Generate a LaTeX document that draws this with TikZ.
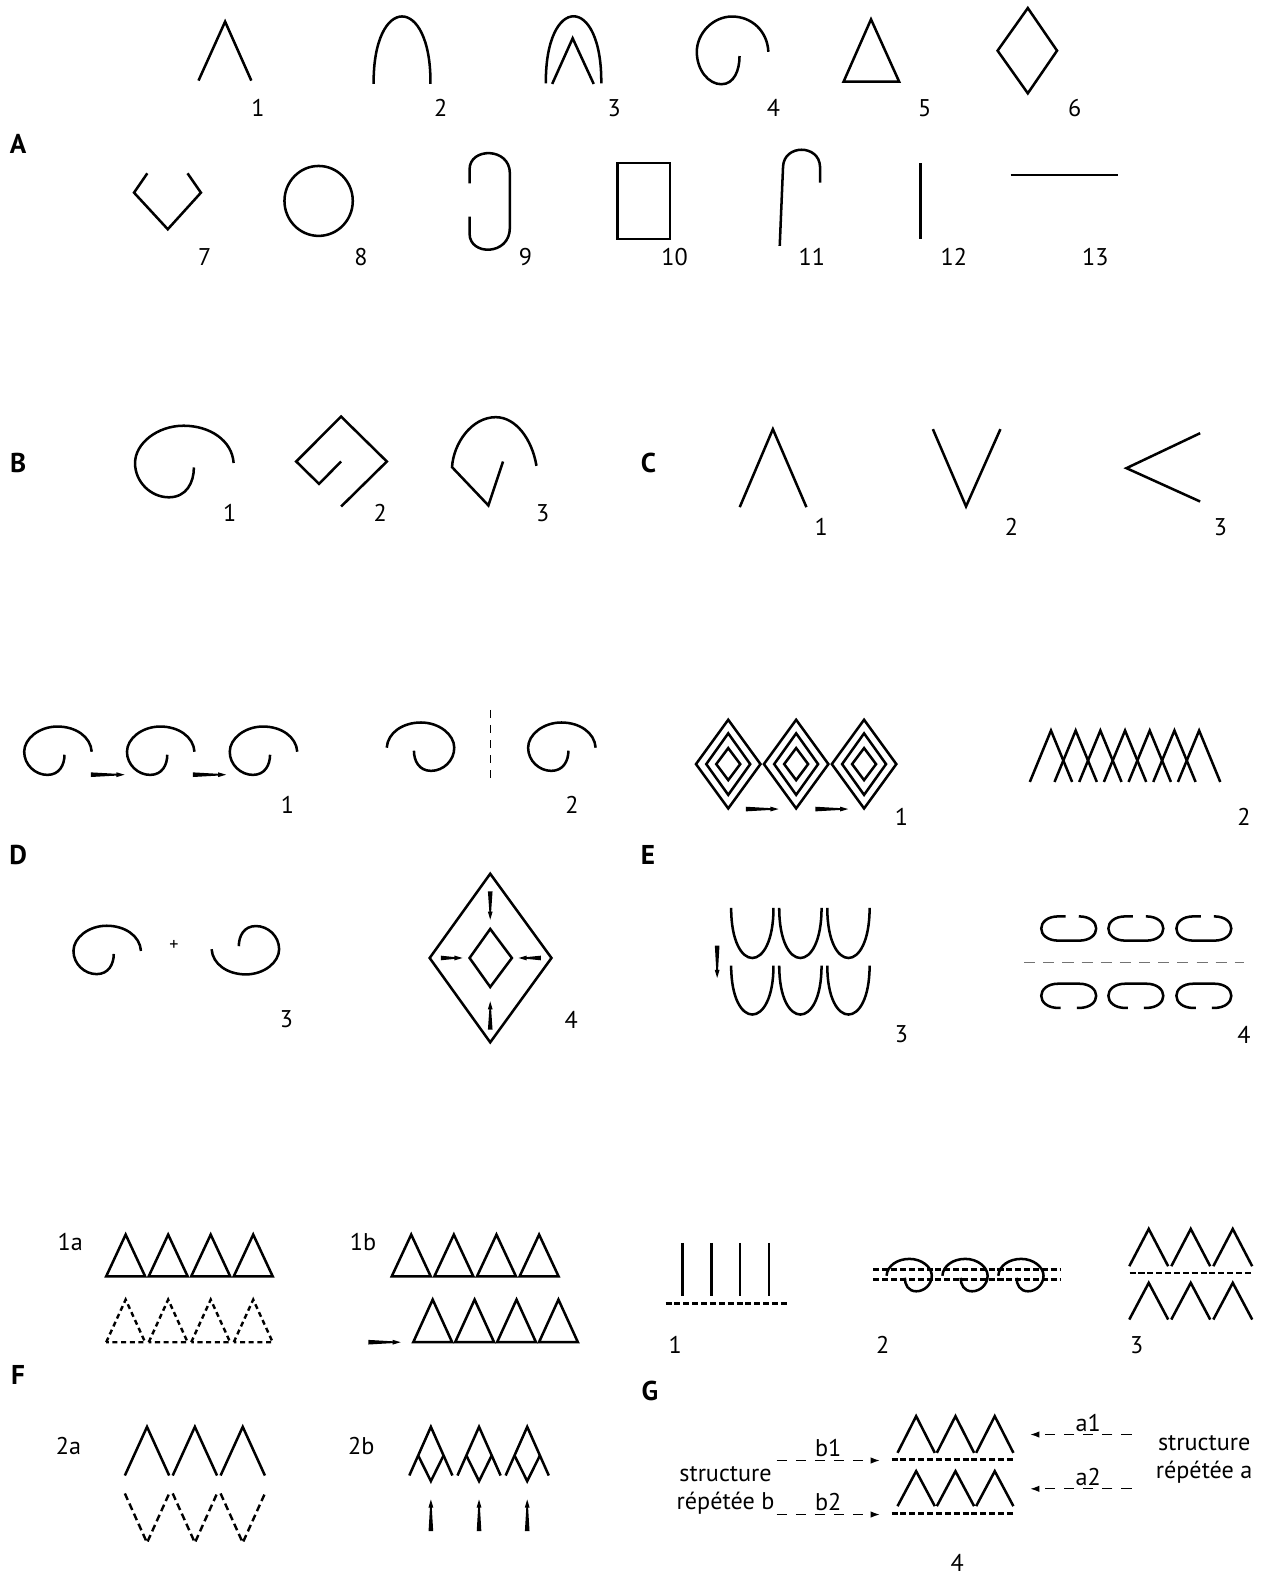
\documentclass[tikz,border=0pt]{standalone}
\usepackage{fontspec}
\setmainfont{PT Sans}
\usetikzlibrary{arrows.meta}
\newcommand\lblfont{\fontsize{12}{14}\selectfont}
\newcommand\bigfont{\fontsize{13.5}{15}\selectfont\bfseries}
\tikzset{
  shp/.style={line width=1.25pt},
  lbl/.style={font=\lblfont, inner sep=0pt},
  big/.style={font=\bigfont, inner sep=0pt},
  fonedash/.style={line width=1.2pt, dash pattern=on 2.5pt off 1.8pt},
  ftwodash/.style={line width=1.2pt, dash pattern=on 3.5pt off 2pt},
  gdash/.style={line width=1.2pt, dash pattern=on 3pt off 1.4pt},
  vdash/.style={line width=0.6pt, dash pattern=on 4pt off 3.5pt},
  graydash/.style={line width=0.7pt, draw=black!55, dash pattern=on 5.5pt off 4pt},
  thinarrow/.style={line width=0.55pt, dash pattern=on 5pt off 4.5pt, -{Latex[length=4.5pt,width=3.2pt]}},
  pics/curl/.style={code={\draw[shp] (34,1) .. controls (33,-14) and (18,-24) .. (0,-24) .. controls (-18,-24) and (-33,-12) .. (-33,1) .. controls (-33,14) and (-22,24) .. (-10,24) .. controls (2,24) and (7,14) .. (7,4);}},
  pics/warrow/.style={code={\fill (0,-2.3) -- ({#1-8},-0.9) -- ({#1-8},-2.4) -- (#1,0) -- ({#1-8},2.4) -- ({#1-8},0.9) -- (0,2.3) -- cycle;}}
}
\begin{document}
\begin{tikzpicture}[x=0.5pt,y=-0.5pt]
\path[use as bounding box, fill=white] (0,0) rectangle (1252,1568);

% ===== A =====
\node[big] (lA) at (18,143) {A};
\draw[shp] (197,80) -- (223.4,21.5) -- (249.4,80);
\draw[shp] (370.8,83.3) .. controls (370,-6) and (428,-6) .. (427.2,83.3);
\draw[shp] (541.7,82.7) .. controls (541,-6) and (597.5,-6) .. (596.7,82.7);
\draw[shp] (548,83.3) -- (568.3,38) -- (589.2,83.3);
\pic[xscale=1.06,yscale=1.4] at (726.5,50) {curl};
\draw[shp] (837.2,81) -- (864.4,19.2) -- (892.3,81) -- cycle;
\draw[shp] (1020,8) -- (1049,50.3) -- (1020,92.6) -- (990,50.3) -- cycle;
\draw[shp] (146.2,172) -- (133,191.2) -- (166.5,227.5) -- (199.4,191.2) -- (186.1,172);
\draw[shp] (316.2,199.4) ellipse [x radius=33.9, y radius=34.7];
\draw[shp] (466,182) -- (466,168) .. controls (466,146) and (506,146) .. (506,172) -- (506,226) .. controls (506,254) and (466,254) .. (466,232) -- (466,215);
\draw[shp] (612.6,162) rectangle (665.1,237.4);
\draw[shp] (773.8,244) -- (777.1,165.4) .. controls (778,143) and (813,143) .. (813.8,165.4) -- (813.8,181.2);
\draw[shp] (913.7,162) -- (913.7,237.4);
\draw[shp] (1003,173.6) -- (1109,173.6);
\node[lbl] (a1) at (256,107) {1};
\node[lbl] (a2) at (437.3,107) {2};
\node[lbl] (a3) at (609.6,107) {3};
\node[lbl] (a4) at (767.6,107) {4};
\node[lbl] (a5) at (917.6,107) {5};
\node[lbl] (a6) at (1066.5,107) {6};
\node[lbl] (a7) at (203.2,255) {7};
\node[lbl] (a8) at (358.1,255) {8};
\node[lbl] (a9) at (521.4,255) {9};
\node[lbl] (a10) at (669.5,255) {10};
\node[lbl] (a11) at (805.6,255) {11};
\node[lbl] (a12) at (946.6,255) {12};
\node[lbl] (a13) at (1087,255) {13};

% ===== B =====
\node[big] (lB) at (18,459) {B};
\pic[xscale=1.46,yscale=1.48] at (182.2,458) {curl};
\draw[shp] (338.5,502.7) -- (383.9,458) -- (338.5,413.4) -- (294,458) -- (316.6,480.2) -- (338.5,458);
\draw[shp] (532.4,462.3) .. controls (528,436) and (512,414) .. (492,414) .. controls (468,414) and (450,440) .. (448.6,463.6) -- (484.7,501.6) -- (499.2,458);
\node[lbl] (b1) at (227.9,509) {1};
\node[lbl] (b2) at (377.4,509) {2};
\node[lbl] (b3) at (538.5,509) {3};

% ===== C =====
\node[big] (lC) at (643.5,459) {C};
\draw[shp] (734.1,503.3) -- (767,425.9) -- (800.3,503.3);
\draw[shp] (925.8,425.9) -- (958.7,502.6) -- (992.8,425.9);
\draw[shp] (1191,429.9) -- (1117.9,464.6) -- (1191,497.7);
\node[lbl] (c1) at (814.9,523) {1};
\node[lbl] (c2) at (1003.8,523) {2};
\node[lbl] (c3) at (1211.3,523) {3};

% ===== D =====
\node[big] (lD) at (18,848) {D};
\pic at (57,745) {curl};
\pic at (159,745) {curl};
\pic at (261,745) {curl};
\pic at (90.2,768.8) {warrow=33.4};
\pic at (191.4,768.8) {warrow=33};
\node[lbl] (d1) at (285.2,798.6) {1};
\pic[xscale=-1] at (417.8,741) {curl};
\pic at (557.1,741) {curl};
\draw[vdash] (486.5,704.4) -- (486.5,775.5);
\node[lbl] (d2) at (567.7,798.6) {2};
\pic at (105.9,942.7) {curl};
\node[font=\fontsize{9}{10}\selectfont, inner sep=0pt] (plus) at (172.6,938.5) {+};
\pic[rotate=180] at (244,943) {curl};
\node[lbl] (d3) at (284.4,1011.9) {3};
\draw[shp] (486.5,867.1) -- (547.3,950.7) -- (486.5,1034.4) -- (426.4,950.7) -- cycle;
\draw[shp] (486.5,921.9) -- (508,950.7) -- (486.5,979.5) -- (466,950.7) -- cycle;
\pic[rotate=-90] at (486.5,884.6) {warrow=28};
\pic[rotate=90] at (486.5,1021.8) {warrow=28};
\pic at (437.4,950.7) {warrow=21.6};
\pic[rotate=180] at (536.7,950.7) {warrow=22};
\node[lbl] (d4) at (566.9,1011.9) {4};

% ===== E =====
\node[big] (lE) at (643,848) {E};
\foreach \x in {722.7,790.1,857.5}{
  \foreach \w/\h in {32/44,21.8/30.5,11.9/15.9}{
    \draw[shp] (\x,758.3-\h) -- (\x+\w,758.3) -- (\x,758.3+\h) -- (\x-\w,758.3) -- cycle;
  }
}
\pic at (740.2,802.9) {warrow=32.4};
\pic at (809.2,802.9) {warrow=32.5};
\node[lbl] (e1) at (894.5,810.2) {1};
\foreach \i in {0,...,6}{
  \draw[shp] ({1043+24.5*\i-21},776) -- ({1043+24.5*\i},725) -- ({1043+24.5*\i+21},776);
}
\node[lbl] (e2) at (1234.4,810.2) {2};
\foreach \x in {725.6,773.3,821}{
  \draw[shp] (\x,901) .. controls (\x,967.3) and (\x+42,967.3) .. (\x+42,901);
  \draw[shp] (\x,958.3) .. controls (\x,1023) and (\x+42,1023) .. (\x+42,958.3);
}
\pic[rotate=-90] at (711.7,938.5) {warrow=32};
\node[lbl] (e3) at (894.5,1026.8) {3};
\foreach \x in {1032.6,1099.2,1166.7}{
  \draw[shp] (\x+25,909.4) -- (\x+18,909.4) .. controls (\x-5,909.4) and (\x-5,933.5) .. (\x+18,933.5) -- (\x+38,933.5) .. controls (\x+61,933.5) and (\x+61,909.4) .. (\x+38,909.4) -- (\x+39,909.4);
  \draw[shp] (\x+20,1000.3) -- (\x+18,1000.3) .. controls (\x-5,1000.3) and (\x-5,976.2) .. (\x+18,976.2) -- (\x+38,976.2) .. controls (\x+61,976.2) and (\x+61,1000.3) .. (\x+38,1000.3) -- (\x+36,1000.3);
}
\draw[graydash] (1016.4,955) -- (1234.4,955);
\node[lbl] (e4) at (1234.4,1026.8) {4};

% ===== F =====
\node[big] (lF) at (18,1365) {F};
\node[lbl] (f1a) at (69.8,1233) {1a};
\foreach \i in {0,...,3}{
  \draw[shp] ({124.7+42.2*\i-19.3},1266.6) -- ({124.7+42.2*\i},1225.2) -- ({124.7+42.2*\i+19.3},1266.6) -- cycle;
  \draw[fonedash] ({124.7+42.2*\i-19.3},1332) -- ({124.7+42.2*\i},1289.7) -- ({124.7+42.2*\i+19.3},1332) -- cycle;
}
\node[lbl] (f1b) at (360.3,1233) {1b};
\foreach \i in {0,...,3}{
  \draw[shp] ({408.1+42.3*\i-19.3},1266.6) -- ({408.1+42.3*\i},1225.2) -- ({408.1+42.3*\i+19.3},1266.6) -- cycle;
  \draw[shp] ({429.4+41.6*\i-19.3},1332) -- ({429.4+41.6*\i},1289.7) -- ({429.4+41.6*\i+19.3},1332) -- cycle;
}
\pic at (365.6,1332) {warrow=32};
\node[lbl] (f2a) at (68,1435) {2a};
\foreach \i in {0,...,2}{
  \draw[shp] ({145.9+47.5*\i-22},1464.3) -- ({145.9+47.5*\i},1416) -- ({145.9+47.5*\i+22},1464.3);
  \draw[ftwodash] ({145.9+47.5*\i-22},1482.1) -- ({145.9+47.5*\i},1531) -- ({145.9+47.5*\i+22},1482.1);
}
\node[lbl] (f2b) at (358.5,1435) {2b};
\foreach \i in {0,...,2}{
  \draw[shp] ({427.6+47.8*\i-21.4},1464.3) -- ({427.6+47.8*\i},1416) -- ({427.6+47.8*\i+21.4},1464.3);
  \draw[shp] ({427.6+47.8*\i-12.6},1444.4) -- ({427.6+47.8*\i},1469.9) -- ({427.6+47.8*\i+12.6},1444.4);
  \pic[rotate=90] at ({427.6+47.8*\i},1519.5) {warrow=31.4};
}

% ===== G =====
\node[big] (lG) at (645,1380) {G};
\foreach \x in {677.4,706,734.5,763}{
  \draw[shp] (\x,1233.4) -- (\x,1285.7);
}
\draw[gdash] (660.5,1293.7) -- (782.5,1293.7);
\node[lbl] (g1) at (670,1335) {1};
\draw[gdash] (866.7,1259.9) -- (1052.1,1259.9);
\draw[gdash] (866.7,1269.8) -- (1052.1,1269.8);
\foreach \x in {902.6,958,1013.5}{
  \pic[xscale=-0.67,yscale=0.67] at (\x,1265.4) {curl};
}
\node[lbl] (g2) at (876,1335) {2};
\foreach \i in {0,...,2}{
  \draw[shp] ({1140+41.7*\i-19.3},1256.6) -- ({1140+41.7*\i},1219.6) -- ({1140+41.7*\i+19.3},1256.6);
  \draw[shp] ({1140+41.7*\i-19.3},1309.5) -- ({1140+41.7*\i},1273.1) -- ({1140+41.7*\i+19.3},1309.5);
}
\draw[gdash] (1121,1263.2) -- (1241,1263.2);
\node[lbl] (g3) at (1128,1335) {3};
\foreach \i in {0,...,2}{
  \draw[shp] ({909.2+39*\i-18.5},1441.8) -- ({909.2+39*\i},1405.4) -- ({909.2+39*\i+18.5},1441.8);
  \draw[shp] ({909.2+39*\i-18.5},1494.7) -- ({909.2+39*\i},1460) -- ({909.2+39*\i+18.5},1494.7);
}
\draw[gdash] (884.8,1448.4) -- (1006.8,1448.4);
\draw[gdash] (884.8,1502) -- (1006.8,1502);
\node[lbl] (sb1) at (720,1463) {structure};
\node[lbl] (sb2) at (720,1492) {répétée b};
\node[lbl] (sa1) at (1195,1432) {structure};
\node[lbl] (sa2) at (1195,1461) {répétée a};
\coordinate (b1s) at (770.7,1449.4);
\coordinate (b1e) at (873,1449.4);
\coordinate (b2s) at (770.7,1503);
\coordinate (b2e) at (873,1503);
\coordinate (a1s) at (1122.9,1423.6);
\coordinate (a1e) at (1022.5,1423.6);
\coordinate (a2s) at (1122.9,1477.5);
\coordinate (a2e) at (1022.5,1477.5);
\draw[thinarrow] (b1s) -- (b1e);
\draw[thinarrow] (b2s) -- (b2e);
\draw[thinarrow] (a1s) -- (a1e);
\draw[thinarrow] (a2s) -- (a2e);
\node[lbl] (tb1) at (822,1437) {b1};
\node[lbl] (tb2) at (822,1491) {b2};
\node[lbl] (ta1) at (1080,1412) {a1};
\node[lbl] (ta2) at (1080,1466) {a2};
\node[lbl] (g4) at (950,1551) {4};
\end{tikzpicture}
\end{document}
